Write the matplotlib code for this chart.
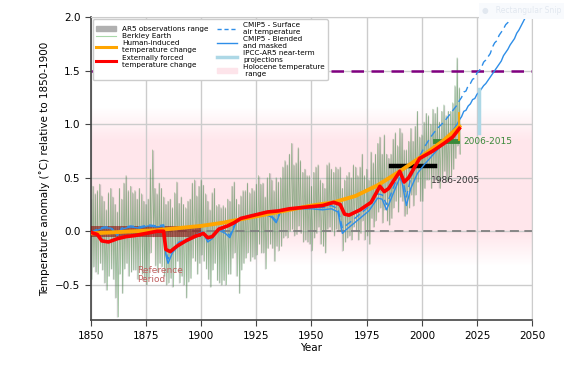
import numpy as np
import matplotlib.pyplot as plt
from matplotlib.patches import Patch
from matplotlib.lines import Line2D

# Berkeley Earth monthly spread, upper / lower spikes per year (1850-2017)
obs_years = list(range(1850, 2018))
obs_hi = [0.30, 0.42, 0.35, 0.38, 0.44, 0.33, 0.28, 0.20, 0.36, 0.40,
          0.32, 0.25, 0.18, 0.40, 0.30, 0.45, 0.52, 0.38, 0.42, 0.36,
          0.38, 0.30, 0.40, 0.35, 0.28, 0.25, 0.30, 0.58, 0.76, 0.40,
          0.35, 0.45, 0.40, 0.32, 0.25, 0.28, 0.30, 0.22, 0.36, 0.46,
          0.26, 0.32, 0.25, 0.22, 0.28, 0.30, 0.45, 0.48, 0.33, 0.42,
          0.48, 0.43, 0.35, 0.28, 0.20, 0.36, 0.40, 0.24, 0.25, 0.22,
          0.24, 0.22, 0.30, 0.28, 0.42, 0.46, 0.30, 0.25, 0.33, 0.38,
          0.38, 0.45, 0.36, 0.40, 0.38, 0.44, 0.52, 0.44, 0.45, 0.32,
          0.50, 0.54, 0.48, 0.38, 0.50, 0.46, 0.50, 0.60, 0.66, 0.62,
          0.72, 0.82, 0.62, 0.64, 0.78, 0.66, 0.55, 0.58, 0.52, 0.52,
          0.42, 0.55, 0.60, 0.62, 0.48, 0.45, 0.40, 0.62, 0.64, 0.58,
          0.55, 0.60, 0.58, 0.60, 0.40, 0.48, 0.52, 0.55, 0.50, 0.62,
          0.60, 0.52, 0.60, 0.72, 0.52, 0.58, 0.48, 0.74, 0.64, 0.72,
          0.82, 0.88, 0.72, 0.90, 0.72, 0.68, 0.72, 0.86, 0.92, 0.80,
          0.96, 0.92, 0.76, 0.76, 0.84, 0.96, 0.84, 0.98, 1.12, 0.88,
          0.90, 1.02, 1.10, 1.08, 1.00, 1.14, 1.10, 1.16, 1.02, 1.12,
          1.18, 1.08, 1.12, 1.12, 1.20, 1.36, 1.62, 1.34]
obs_lo = [-0.45, -0.33, -0.38, -0.40, -0.30, -0.36, -0.48, -0.55, -0.42, -0.35,
          -0.45, -0.62, -0.80, -0.40, -0.58, -0.35, -0.30, -0.42, -0.38, -0.36,
          -0.36, -0.45, -0.35, -0.40, -0.46, -0.50, -0.44, -0.20, -0.05, -0.32,
          -0.38, -0.30, -0.33, -0.42, -0.50, -0.48, -0.44, -0.52, -0.38, -0.28,
          -0.48, -0.42, -0.50, -0.62, -0.47, -0.44, -0.25, -0.28, -0.40, -0.30,
          -0.22, -0.28, -0.35, -0.45, -0.52, -0.36, -0.30, -0.46, -0.48, -0.50,
          -0.46, -0.50, -0.40, -0.40, -0.25, -0.20, -0.42, -0.58, -0.36, -0.30,
          -0.25, -0.20, -0.28, -0.24, -0.26, -0.22, -0.12, -0.20, -0.20, -0.35,
          -0.16, -0.12, -0.16, -0.28, -0.14, -0.18, -0.14, -0.06, -0.04, -0.06,
          0.00, 0.02, -0.04, -0.03, 0.05, -0.02, -0.10, -0.08, -0.10, -0.12,
          -0.18, -0.06, -0.02, 0.04, -0.12, -0.14, -0.20, 0.02, 0.04, 0.00,
          -0.04, 0.02, 0.00, 0.00, -0.18, -0.10, -0.06, -0.04, -0.08, 0.04,
          0.00, -0.08, -0.02, 0.10, -0.08, -0.04, -0.12, 0.12, 0.04, 0.10,
          0.18, 0.22, 0.08, 0.20, 0.10, 0.06, 0.12, 0.22, 0.28, 0.18,
          0.32, 0.28, 0.14, 0.16, 0.22, 0.34, 0.24, 0.34, 0.46, 0.28,
          0.28, 0.40, 0.48, 0.48, 0.40, 0.52, 0.48, 0.46, 0.40, 0.50,
          0.56, 0.46, 0.50, 0.52, 0.58, 0.68, 0.80, 0.72]

# externally forced temperature change
forced_years = [1850, 1853, 1855, 1858, 1862, 1866, 1870, 1875, 1880, 1883,
                1884, 1886, 1889, 1893, 1897, 1901, 1903, 1905, 1908, 1912,
                1915, 1918, 1922, 1926, 1930, 1935, 1940, 1945, 1950, 1955,
                1960, 1963, 1965, 1967, 1972, 1977, 1981, 1983, 1985, 1990,
                1992, 1994, 1999, 2005, 2010, 2014, 2017]
forced = [-0.01, -0.03, -0.09, -0.10, -0.07, -0.05, -0.04, -0.02, 0.00, 0.00,
          -0.17, -0.19, -0.14, -0.09, -0.05, -0.02, -0.06, -0.05, 0.02, 0.05,
          0.08, 0.12, 0.14, 0.16, 0.18, 0.19, 0.21, 0.22, 0.23, 0.24,
          0.27, 0.25, 0.16, 0.15, 0.20, 0.27, 0.42, 0.37, 0.40, 0.56,
          0.46, 0.50, 0.68, 0.75, 0.82, 0.88, 0.96]

# human-induced temperature change
human_years = [1850, 1860, 1870, 1880, 1890, 1900, 1910, 1920, 1930, 1940,
               1950, 1960, 1970, 1980, 1990, 2000, 2010, 2017]
human = [-0.02, -0.01, 0.00, 0.01, 0.03, 0.05, 0.08, 0.12, 0.16, 0.20,
         0.24, 0.27, 0.33, 0.43, 0.56, 0.70, 0.85, 0.98]
human_range_2017 = [0.85, 1.10]

# CMIP5 multi-model mean: blended-masked and surface air temperature
cmip_years = [1850, 1853, 1856, 1859, 1862, 1864, 1868, 1872, 1876, 1880,
              1883, 1884, 1885, 1887, 1890, 1895, 1901, 1903, 1905, 1908,
              1911, 1913, 1916, 1922, 1929, 1932, 1934, 1936, 1945, 1950,
              1955, 1959, 1962, 1964, 1966, 1969, 1976, 1980, 1982, 1984,
              1986, 1990, 1991, 1993, 1995, 1998, 2001, 2004, 2007, 2010,
              2013, 2016, 2017, 2018, 2019, 2020, 2021, 2022, 2023, 2024,
              2025, 2026, 2027, 2028, 2029, 2030, 2031, 2032, 2033, 2034,
              2035, 2036, 2037, 2038, 2039, 2040, 2041, 2042, 2043, 2044,
              2045, 2046, 2047, 2048, 2049, 2050]
cmip_blend = [-0.02, 0.01, 0.03, 0.03, -0.04, 0.02, 0.04, 0.03, 0.05, 0.04,
              0.05, -0.22, -0.30, -0.20, -0.13, -0.08, -0.02, -0.10, -0.07, 0.01,
              -0.02, -0.06, 0.09, 0.14, 0.16, 0.13, 0.08, 0.18, 0.21, 0.21,
              0.20, 0.21, 0.18, -0.02, 0.02, 0.07, 0.19, 0.31, 0.30, 0.20,
              0.30, 0.50, 0.46, 0.24, 0.40, 0.54, 0.62, 0.69, 0.76, 0.82,
              0.91, 1.00, 1.04, 1.07, 1.12, 1.13, 1.17, 1.19, 1.23, 1.24,
              1.28, 1.30, 1.33, 1.36, 1.38, 1.41, 1.44, 1.47, 1.50, 1.53,
              1.56, 1.59, 1.64, 1.67, 1.70, 1.74, 1.77, 1.80, 1.85, 1.88,
              1.92, 1.96, 2.00, 2.03, 2.06, 2.10]
cmip_sat = [-0.01, 0.02, 0.04, 0.04, -0.03, 0.03, 0.05, 0.04, 0.06, 0.05,
            0.06, -0.18, -0.26, -0.17, -0.10, -0.06, 0.00, -0.08, -0.05, 0.03,
            0.00, -0.04, 0.10, 0.15, 0.17, 0.14, 0.10, 0.19, 0.22, 0.23,
            0.22, 0.24, 0.21, 0.03, 0.06, 0.11, 0.23, 0.35, 0.34, 0.25,
            0.35, 0.56, 0.52, 0.32, 0.50, 0.66, 0.78, 0.88, 0.96, 1.02,
            1.10, 1.18, 1.22, 1.25, 1.30, 1.31, 1.36, 1.38, 1.42, 1.43,
            1.48, 1.50, 1.53, 1.58, 1.60, 1.63, 1.66, 1.72, 1.76, 1.78,
            1.83, 1.86, 1.89, 1.93, 1.95, 1.99, 2.03, 2.06, 2.10, 2.13,
            2.16, 2.20, 2.23, 2.26, 2.29, 2.32]

# IPCC-AR5 near-term projection range
ar5_year = 2026
ar5_range = [0.92, 1.33]

ref_period = [1850, 1900]
ref_band = [-0.05, 0.05]
period_8605 = [1986, 2006]
mean_8605 = 0.61
period_0615 = [2006, 2016]
mean_0615 = 0.84

fig = plt.figure(figsize=(5.71, 3.65), dpi=100)
ax = fig.add_axes([0.159, 0.123, 0.773, 0.830])

# Holocene range as a soft pink band
yy = np.linspace(-0.32, 1.16, 200)
alpha = np.interp(yy, [-0.32, -0.02, 0.85, 1.16], [0.0, 1.0, 1.0, 0.0])
img = np.zeros((len(yy), 2, 4))
img[..., 0] = 1.0
img[..., 1] = 0.75
img[..., 2] = 0.80
img[..., 3] = (alpha * 0.38)[:, None]
ax.imshow(img, extent=[1850, 2050, -0.32, 1.16], origin='lower',
          aspect='auto', zorder=0, interpolation='bilinear')

# observations: grey range + green spiky line
ax.vlines(obs_years, obs_lo, obs_hi, color='gray', alpha=0.35, lw=1.0, zorder=1)
zx, zy = [], []
for y, h, l in zip(obs_years, obs_hi, obs_lo):
    zx += [y, y + 0.5]
    zy += [h, l]
ax.plot(zx, zy, color='#3c8c3c', alpha=0.45, lw=0.6, zorder=2)

ax.axhline(0.0, color='gray', lw=1.3, ls=(0, (5, 3)), zorder=2)
ax.axhline(1.5, color='purple', lw=1.8, ls=(0, (5, 3)), zorder=2)

ax.fill_between(ref_period, ref_band[0], ref_band[1], color='darkred',
                alpha=0.55, lw=0, zorder=3)
ax.text(1871, -0.32, 'Reference\nPeriod', color='#c06060', fontsize=6.5,
        va='top', ha='left', linespacing=1.0, zorder=6)

ax.plot(period_8605, [mean_8605] * 2, color='black', lw=3.2, zorder=4)
ax.text(2004, 0.47, '1986-2005', color='#333333', fontsize=6.5, va='center')
ax.plot(period_0615, [mean_0615] * 2, color='#3a8a3a', lw=3.5, zorder=4)
ax.text(2019, 0.84, '2006-2015', color='#3a8a3a', fontsize=6.5, va='center')

ax.plot(cmip_years, cmip_sat, color='#2e8ee8', lw=1.0, ls=(0, (5, 3)), zorder=4)
ax.plot(cmip_years, cmip_blend, color='#2e8ee8', lw=1.0, zorder=4)
ax.plot(human_years, human, color='orange', lw=2.8, zorder=5)
ax.plot([2017, 2017], human_range_2017, color='orange', lw=1.3, zorder=5)
ax.plot(forced_years, forced, color='red', lw=2.6, zorder=5)
ax.plot([ar5_year, ar5_year], ar5_range, color='lightblue', lw=2.5, zorder=4)

ax.set_xlim(1850, 2050)
ax.set_ylim(-0.83, 2.0)
ax.set_xticks(range(1850, 2051, 25))
ax.set_yticks([-0.5, 0.0, 0.5, 1.0, 1.5, 2.0])
ax.grid(True, color='#cccccc', lw=1.0, zorder=0)
ax.set_axisbelow(True)
ax.tick_params(labelsize=7.5, color='#444444', length=4)
for s in ['left', 'bottom']:
    ax.spines[s].set_color('#444444')
    ax.spines[s].set_linewidth(1.2)
for s in ['top', 'right']:
    ax.spines[s].set_color('#cccccc')
ax.set_xlabel('Year', fontsize=7.5, labelpad=2)
ax.set_ylabel('Temperature anomaly (˚C) relative to 1850-1900', fontsize=7.5)

handles = [
    Patch(color='#b0b0b0'),
    Line2D([], [], color='#a8d8a8', lw=0.8),
    Line2D([], [], color='orange', lw=2.2),
    Line2D([], [], color='red', lw=2.2),
    Line2D([], [], color='#2e8ee8', lw=1.0, ls=(0, (3, 2))),
    Line2D([], [], color='#2e8ee8', lw=1.0),
    Line2D([], [], color='lightblue', lw=2.5),
    Patch(color='#fde4ea'),
]
labels = ['AR5 observations range', 'Berkley Earth',
          'Human-induced\ntemperature change',
          'Externally forced\ntemperature change',
          'CMIP5 - Surface\nair temperature', 'CMIP5 - Blended\nand masked',
          'IPCC-AR5 near-term\nprojections', 'Holocene temperature\n range']
leg = ax.legend(handles, labels, loc='upper left', ncol=2, fontsize=5.2,
                frameon=True, framealpha=1, edgecolor='#cccccc',
                borderaxespad=0.3, handlelength=2.8, labelspacing=0.15,
                columnspacing=1.2, handletextpad=0.8)
leg.set_zorder(10)

# faint screenshot-tool label in the corner
fig.text(0.913, 0.97, '\u25cf   Rectangular Snip', fontsize=5.5, color='#e2e8f0',
         ha='center', va='center',
         bbox=dict(boxstyle='square,pad=0.4', fc='#f8fafd', ec='none'))

fig.savefig('out.png', dpi=100)
